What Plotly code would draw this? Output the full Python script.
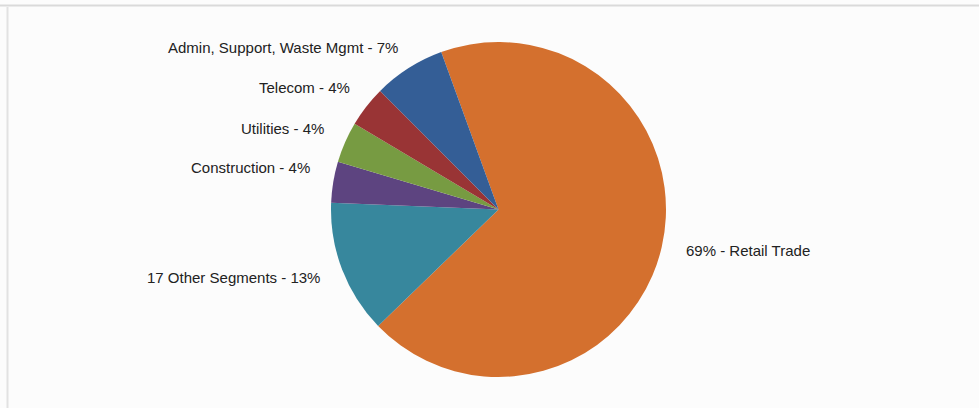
import plotly.graph_objects as go

# Segment shares (percent), listed clockwise starting with the largest slice
segments = ["Retail Trade", "17 Other Segments", "Construction", "Utilities",
            "Telecom", "Admin, Support, Waste Mgmt"]
shares = [69, 13, 4, 4, 4, 7]
colors = ["#D4702E", "#37879D", "#5D4480", "#779B42", "#993435", "#345E96"]

W, H = 979, 408

fig = go.Figure(
    go.Pie(
        labels=segments,
        values=shares,
        sort=False,
        direction="clockwise",
        rotation=-20,
        marker=dict(colors=colors, line=dict(width=0)),
        textinfo="none",
        hoverinfo="label+percent",
        showlegend=False,
        domain=dict(x=[331 / W, 666 / W], y=[31 / H, 366 / H]),
    )
)

# Label placement (pixel anchors) for each segment
label_pos = {
    "Retail Trade": (684, 250, "left"),
    "17 Other Segments": (322, 277, "right"),
    "Construction": (312, 167, "right"),
    "Utilities": (326, 128, "right"),
    "Telecom": (352, 87, "right"),
    "Admin, Support, Waste Mgmt": (400, 47, "right"),
}

annotations = []
for name, pct in zip(segments, shares):
    px, py, anchor = label_pos[name]
    text = f"{pct}% - {name}" if anchor == "left" else f"{name} - {pct}%"
    annotations.append(dict(
        text=text, x=px / W, y=1 - py / H, xref="paper", yref="paper",
        xanchor=anchor, yanchor="middle", showarrow=False,
        font=dict(family="Liberation Sans, Arial, sans-serif", size=15, color="#222222"),
    ))

# Panel frame: top rule and left edge
shapes = [
    dict(type="line", xref="paper", yref="paper", x0=0, x1=1,
         y0=1 - 5.5 / H, y1=1 - 5.5 / H, line=dict(color="#DADADA", width=2)),
    dict(type="line", xref="paper", yref="paper", x0=7.5 / W, x1=7.5 / W,
         y0=0, y1=1 - 7 / H, line=dict(color="#E2E2E2", width=2)),
]

fig.update_layout(
    width=W, height=H,
    margin=dict(l=0, r=0, t=0, b=0),
    paper_bgcolor="#FCFCFC",
    plot_bgcolor="#FCFCFC",
    annotations=annotations,
    shapes=shapes,
)

fig.write_html("out.html")
